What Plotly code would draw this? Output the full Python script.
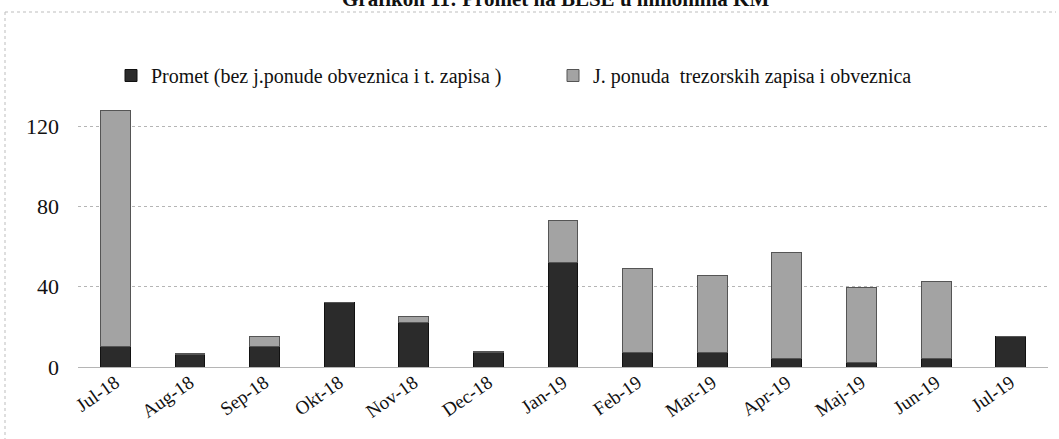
import plotly.graph_objects as go

months = ["Jul-18", "Aug-18", "Sep-18", "Okt-18", "Nov-18", "Dec-18", "Jan-19",
          "Feb-19", "Mar-19", "Apr-19", "Maj-19", "Jun-19", "Jul-19"]
promet = [10, 6, 10, 32, 22, 7, 52, 7, 7, 4, 2, 4, 15]
ponuda = [118, 0.5, 5, 0, 3, 0.5, 21, 42, 38.5, 53, 37.5, 38.5, 0]
yticks = [0, 40, 80, 120]

serif = "Liberation Serif, Times New Roman, serif"

fig = go.Figure()
fig.add_trace(go.Bar(
    x=months, y=promet, name="Promet (bez j.ponude obveznica i t. zapisa )",
    marker=dict(color="#2b2b2b", line=dict(color="#111111", width=1)),
))
fig.add_trace(go.Bar(
    x=months, y=ponuda, name="J. ponuda  trezorskih zapisa i obveznica",
    marker=dict(color="#a3a3a3", line=dict(color="#555555", width=1)),
))

L, R, T, B = 78, 11, 102, 72
W, H = 1059, 439
pw, ph = W - L - R, H - T - B

def px_x(p):
    return (p - L) / pw

def px_y(p):
    return (H - B - p) / ph

fig.update_layout(
    barmode="stack",
    bargap=0.6,
    width=W, height=H,
    margin=dict(l=L, r=R, t=T, b=B, autoexpand=False),
    paper_bgcolor="white",
    plot_bgcolor="white",
    font=dict(family=serif, size=20, color="#111111"),
    showlegend=True,
    legend=dict(
        orientation="h",
        x=px_x(111), y=px_y(56), xanchor="left", yanchor="top",
        font=dict(family=serif, size=20, color="#111111"),
        itemwidth=30, entrywidth=397, entrywidthmode="pixels",
        traceorder="normal",
    ),
    xaxis=dict(
        tickangle=-35,
        tickfont=dict(family=serif, size=19, color="#111111"),
        showline=False, showgrid=False, ticks="",
    ),
    yaxis=dict(
        range=[0, 132],
        tickvals=yticks,
        tickfont=dict(family=serif, size=22, color="#111111"),
        showgrid=True, gridcolor="#b5b5b5", griddash="dot", gridwidth=1,
        zeroline=True, zerolinecolor="#b5b5b5", zerolinewidth=1,
        ticks="", ticklabelstandoff=18,
    ),
    annotations=[dict(
        text="<b>Grafikon 11: Promet na BLSE u milionima KM</b>",
        xref="paper", yref="paper", x=px_x(555), y=px_y(13),
        xanchor="center", yanchor="bottom", showarrow=False,
        font=dict(family=serif, size=21, color="#111111"),
    )],
    shapes=[
        dict(type="line", xref="paper", yref="paper",
             x0=px_x(5), x1=px_x(1056), y0=px_y(12), y1=px_y(12),
             line=dict(color="#bdbdbd", width=1, dash="dot")),
        dict(type="line", xref="paper", yref="paper",
             x0=px_x(5), x1=px_x(5), y0=px_y(12), y1=px_y(439),
             line=dict(color="#bdbdbd", width=1, dash="dot")),
    ],
)

fig.write_html("out.html", config={"displayModeBar": False},
               post_script="document.body.style.margin='0';")
